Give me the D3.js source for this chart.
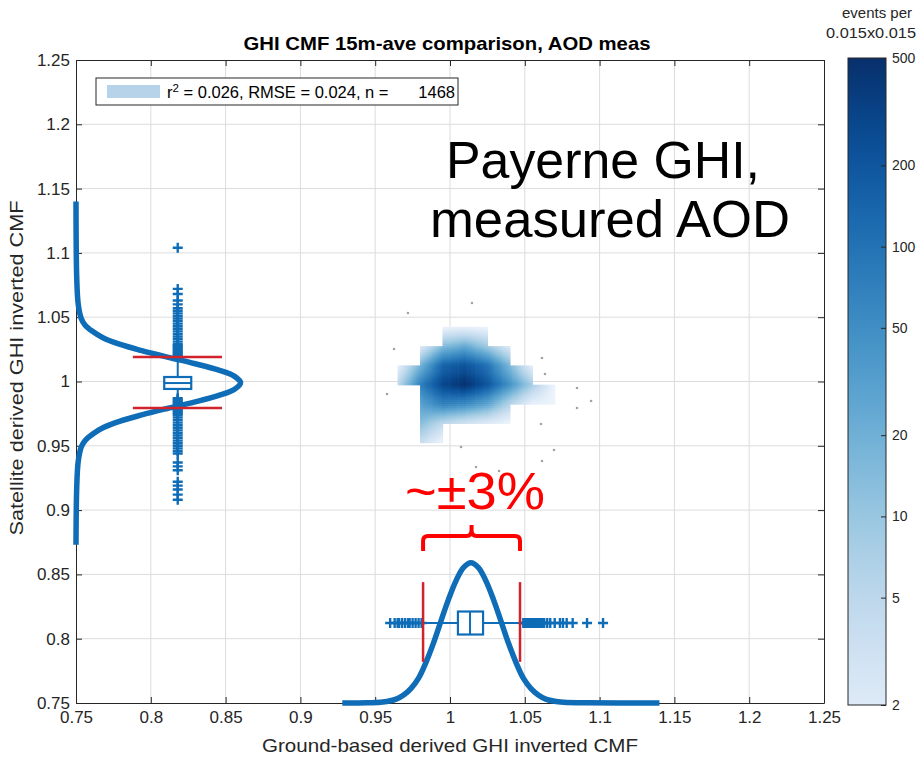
<!DOCTYPE html>
<html><head><meta charset="utf-8">
<script src="https://cdn.jsdelivr.net/npm/d3@7"></script>
<style>
body{margin:0;background:#fff}
.n{font-family:"Liberation Sans Narrow","Arial Narrow","Liberation Sans",Arial,sans-serif}
.w{font-family:"Liberation Sans",Arial,sans-serif}
</style>
</head><body><svg id="c" width="921" height="758"></svg>
<script>
// ---------- data ----------
const xTicks = [0.75,0.8,0.85,0.9,0.95,1,1.05,1.1,1.15,1.2,1.25];
const yTicks = [0.75,0.8,0.85,0.9,0.95,1,1.05,1.1,1.15,1.2,1.25];
const cbTicks = [2,5,10,20,50,100,200,500];

// 2-D histogram node values (events per 0.015x0.015), rows top->bottom
const gridX = [0.965,0.980,0.995,1.010,1.025,1.040,1.055,1.070];
const gridY = [1.0425,1.0275,1.0125,0.9975,0.9825,0.9675,0.9525];
const density = [
  [null,null,1.2, 1.4, 1.2, null,null,null],
  [null,2,   14,  24,  9,   2,   null,null],
  [1.5, 18,  140, 210, 100, 16,  1.5, null],
  [5,   70,  280, 480, 200, 45,  8,   1.2],
  [null,30,  70,  55,  28,  6,   1.5, 1.2],
  [null,14,  5,   3,   2,   1.2, null,null],
  [null,4,   1.2, null,null,null,null,null]
];

const scatterX = [1.0147,0.9719,0.9626,1.0615,1.0635,1.0849,0.9579,1.0943,1.0849,1.0608,1.0074,1.0695,1.0615,1.0174,1.0328];
const scatterY = [1.0610,1.0533,1.0253,1.0183,1.0058,0.9949,0.9903,0.9848,0.9794,0.9670,0.9491,0.9467,0.9382,0.9335,0.9304];

// marginal distribution along x (ground-based), drawn above y=0.75
const bottomPdfX = [0.928,0.945,0.955,0.964,0.969,0.974,0.979,0.984,0.989,0.994,0.999,1.004,1.009,1.014,1.019,1.024,1.029,1.034,1.039,1.044,1.049,1.054,1.059,1.064,1.074,1.09,1.14];
const bottomPdfY = [0.7500,0.7502,0.7507,0.7530,0.7562,0.7614,0.7693,0.7818,0.7968,0.8139,0.8306,0.8450,0.8553,0.8590,0.8553,0.8450,0.8306,0.8139,0.7968,0.7818,0.7693,0.7614,0.7562,0.7530,0.7507,0.7502,0.7500];

// marginal distribution along y (satellite), drawn right of x=0.75
const leftPdfY = [1.140,1.080,1.060,1.049,1.044,1.039,1.034,1.029,1.024,1.019,1.014,1.009,1.004,0.999,0.994,0.989,0.984,0.979,0.974,0.969,0.964,0.959,0.954,0.949,0.938,0.918,0.873];
const leftPdfX = [0.7500,0.7505,0.7515,0.7535,0.7560,0.7610,0.7680,0.7790,0.7940,0.8110,0.8290,0.8450,0.8560,0.8600,0.8560,0.8450,0.8290,0.8110,0.7940,0.7790,0.7680,0.7610,0.7560,0.7535,0.7515,0.7505,0.7500];

// box plots
const leftBoxPos = 0.818;
const leftBox = [0.988, 0.9942, 0.9988, 1.0035, 1.0185]; // whiskerLo, q1, median, q3, whiskerHi
const leftOutliers = [1.104,1.072,1.068,1.063,1.060,1.057,1.055,1.053,1.051,1.049,1.047,1.045,1.043,1.041,1.039,1.037,1.035,1.033,1.031,1.029,1.028,1.027,1.026,1.025,1.024,1.023,1.022,1.021,1.020,1.019,
  0.987,0.986,0.985,0.984,0.983,0.982,0.981,0.980,0.979,0.978,0.977,0.976,0.975,0.974,0.972,0.970,0.968,0.966,0.964,0.962,0.960,0.958,0.956,0.954,0.952,0.950,0.948,0.946,0.944,0.937,0.934,0.931,0.922,0.919,0.916,0.912,0.908];
const leftLimits = [0.9794, 1.019];

const bottomBoxPos = 0.8122;
const bottomBox = [0.983, 1.0053, 1.0134, 1.0221, 1.047];
const bottomOutliers = [0.960,0.963,0.965,0.966,0.968,0.970,0.972,0.973,0.975,0.977,0.979,0.981,
  1.049,1.050,1.051,1.052,1.053,1.054,1.055,1.056,1.057,1.058,1.059,1.060,1.061,1.062,1.063,1.065,1.067,1.070,1.0735,1.0755,1.078,1.082,1.0916,1.1023];
const bottomLimits = [0.982, 1.0468];

// ---------- drawing ----------
const svg = d3.select("#c");
const L=76,R=824,T=60,B=703;
const x = d3.scaleLinear().domain([0.75,1.25]).range([L,R]);
const y = d3.scaleLinear().domain([0.75,1.25]).range([B,T]);
const cb = d3.scaleLog().domain([2,500]).range([0.13,1]).clamp(false);
const col = v => d3.interpolateBlues(Math.max(0,Math.min(1,cb(v))));
const blue = "#0f6cb6", axc="#262626";

svg.append("rect").attr("width",921).attr("height",758).attr("fill","#fff");

// grid
const g = svg.append("g");
g.selectAll("line.gx").data(xTicks.slice(1,-1)).join("line")
  .attr("x1",d=>x(d)).attr("x2",d=>x(d)).attr("y1",T).attr("y2",B).attr("stroke","#dcdcdc");
g.selectAll("line.gy").data(yTicks.slice(1,-1)).join("line")
  .attr("y1",d=>y(d)).attr("y2",d=>y(d)).attr("x1",L).attr("x2",R).attr("stroke","#dcdcdc");

// density (bilinear interpolation of log counts)
const N=10, cells=[];
for(let r=0;r<gridY.length-1;r++) for(let c=0;c<gridX.length-1;c++){
  const a=density[r][c], b=density[r][c+1], d0=density[r+1][c], e=density[r+1][c+1];
  if(a==null||b==null||d0==null||e==null) continue;
  const la=Math.log(a), lb=Math.log(b), ld=Math.log(d0), le=Math.log(e);
  const X0=x(gridX[c]), X1=x(gridX[c+1]), Y0=y(gridY[r]), Y1=y(gridY[r+1]);
  for(let i=0;i<N;i++) for(let j=0;j<N;j++){
    const u=(j+0.5)/N, w=(i+0.5)/N;
    const lv=(1-w)*((1-u)*la+u*lb)+w*((1-u)*ld+u*le);
    cells.push({x0:X0+(X1-X0)*j/N, x1:X0+(X1-X0)*(j+1)/N, y0:Y0+(Y1-Y0)*i/N, y1:Y0+(Y1-Y0)*(i+1)/N, v:Math.exp(lv)});
  }
}
svg.append("g").selectAll("rect").data(cells).join("rect")
  .attr("x",d=>d.x0).attr("y",d=>d.y0).attr("width",d=>d.x1-d.x0+0.6).attr("height",d=>d.y1-d.y0+0.6)
  .attr("fill",d=>col(d.v));

svg.append("g").selectAll("circle").data(scatterX).join("circle")
  .attr("cx",d=>x(d)).attr("cy",(d,i)=>y(scatterY[i])).attr("r",1.3).attr("fill","#a3a3a3");

// axes
function ax(axis, tr, labels){
  const a = svg.append("g").attr("transform",tr).call(axis);
  a.select(".domain").attr("stroke",axc).attr("stroke-width",1);
  a.selectAll(".tick line").attr("stroke",axc);
  a.selectAll("text").attr("class","n").attr("font-size",17).attr("fill",axc);
  if(!labels) a.selectAll("text").remove();
  return a;
}
const fmt = d=>d3.format("")(+d.toFixed(2));
ax(d3.axisBottom(x).tickValues(xTicks).tickSizeInner(-6).tickSizeOuter(0).tickPadding(8).tickFormat(fmt),`translate(0,${B})`,true);
ax(d3.axisLeft(y).tickValues(yTicks).tickSizeInner(-6).tickSizeOuter(0).tickPadding(6).tickFormat(fmt),`translate(${L},0)`,true);
ax(d3.axisTop(x).tickValues(xTicks).tickSizeInner(-6).tickSizeOuter(0),`translate(0,${T})`,false);
ax(d3.axisRight(y).tickValues(yTicks).tickSizeInner(-6).tickSizeOuter(0),`translate(${R},0)`,false);

// marginal curves
const lineB = d3.line().x(d=>x(d[0])).y(d=>y(d[1])).curve(d3.curveCatmullRom);
svg.append("path").datum(bottomPdfX.map((v,i)=>[v,bottomPdfY[i]])).attr("d",lineB)
  .attr("fill","none").attr("stroke",blue).attr("stroke-width",5.5).attr("stroke-linejoin","round");
svg.append("path").datum(leftPdfY.map((v,i)=>[leftPdfX[i],v])).attr("d",lineB)
  .attr("fill","none").attr("stroke",blue).attr("stroke-width",5.5).attr("stroke-linejoin","round");

const plus = "M-5,0H5M0,-5V5";
// left box plot (vertical)
const lb = svg.append("g").attr("stroke",blue).attr("fill","none");
const lx = x(leftBoxPos), bw = 13.5;
lb.append("line").attr("x1",lx).attr("x2",lx).attr("y1",y(leftBox[1])).attr("y2",y(leftBox[0])).attr("stroke-width",2);
lb.append("line").attr("x1",lx).attr("x2",lx).attr("y1",y(leftBox[3])).attr("y2",y(leftBox[4])).attr("stroke-width",2);
lb.append("rect").attr("x",lx-bw).attr("width",2*bw).attr("y",y(leftBox[3])).attr("height",y(leftBox[1])-y(leftBox[3])).attr("stroke-width",2.2).attr("fill","#fff");
lb.append("line").attr("x1",lx-bw).attr("x2",lx+bw).attr("y1",y(leftBox[2])).attr("y2",y(leftBox[2])).attr("stroke-width",2);
lb.selectAll("path").data(leftOutliers).join("path").attr("d",plus)
  .attr("transform",d=>`translate(${lx},${y(d)})`).attr("stroke-width",2.4);

// bottom box plot (horizontal)
const bb = svg.append("g").attr("stroke",blue).attr("fill","none");
const by = y(bottomBoxPos), bh = 11.5;
bb.append("line").attr("y1",by).attr("y2",by).attr("x1",x(bottomBox[0])).attr("x2",x(bottomBox[1])).attr("stroke-width",2);
bb.append("line").attr("y1",by).attr("y2",by).attr("x1",x(bottomBox[3])).attr("x2",x(bottomBox[4])).attr("stroke-width",2);
bb.append("rect").attr("y",by-bh).attr("height",2*bh).attr("x",x(bottomBox[1])).attr("width",x(bottomBox[3])-x(bottomBox[1])).attr("stroke-width",2.2).attr("fill","#fff");
bb.append("line").attr("y1",by-bh).attr("y2",by+bh).attr("x1",x(bottomBox[2])).attr("x2",x(bottomBox[2])).attr("stroke-width",2);
bb.selectAll("path").data(bottomOutliers).join("path").attr("d",plus)
  .attr("transform",d=>`translate(${x(d)},${by})`).attr("stroke-width",2.4);

// red limit lines
const red="#d0232b";
svg.append("g").selectAll("line").data(leftLimits).join("line")
  .attr("x1",x(0.788)).attr("x2",x(0.8476)).attr("y1",d=>y(d)).attr("y2",d=>y(d)).attr("stroke",red).attr("stroke-width",2.5);
svg.append("g").selectAll("line").data(bottomLimits).join("line")
  .attr("y1",y(0.844)).attr("y2",y(0.782)).attr("x1",d=>x(d)).attr("x2",d=>x(d)).attr("stroke",red).attr("stroke-width",2.5);

// brace + annotation
const bx0=x(bottomLimits[0]), bx1=x(bottomLimits[1]), bm=(bx0+bx1)/2, byb=551, byt=536;
svg.append("path").attr("d",`M${bx0},${byb}V${byt+5}Q${bx0},${byt} ${bx0+5},${byt}H${bm-5}Q${bm},${byt} ${bm},${byt-6}V${byt-11}M${bm},${byt-6}Q${bm},${byt} ${bm+5},${byt}H${bx1-5}Q${bx1},${byt} ${bx1},${byt+5}V${byb}`)
  .attr("fill","none").attr("stroke","#ff0000").attr("stroke-width",4);
svg.append("text").attr("class","w").attr("x",475).attr("y",509).attr("text-anchor","middle")
  .attr("font-size",52).attr("textLength",140).attr("lengthAdjust","spacingAndGlyphs").attr("fill","#ff0000").text("~±3%");

svg.append("text").attr("class","w").attr("x",603).attr("y",178).attr("text-anchor","middle").attr("font-size",52).attr("textLength",314).attr("lengthAdjust","spacingAndGlyphs").attr("fill","#000").text("Payerne GHI,");
svg.append("text").attr("class","w").attr("x",610).attr("y",237).attr("text-anchor","middle").attr("font-size",52).attr("textLength",360).attr("lengthAdjust","spacingAndGlyphs").attr("fill","#000").text("measured AOD");

// legend
const lg = svg.append("g");
lg.append("rect").attr("x",96).attr("y",78).attr("width",362).attr("height",27).attr("fill","#fff").attr("stroke",axc).attr("stroke-width",1);
lg.append("rect").attr("x",107).attr("y",85).attr("width",53).attr("height",13).attr("fill","#b6d3ea");
const lt = lg.append("text").attr("class","n").attr("x",167).attr("y",98).attr("font-size",16.5).attr("fill","#000");
lt.append("tspan").text("r");
lt.append("tspan").attr("dy",-6).attr("font-size",11.5).text("2");
lt.append("tspan").attr("dy",6).text(" = 0.026, RMSE = 0.024, n =");
lg.append("text").attr("class","n").attr("x",455).attr("y",98).attr("text-anchor","end").attr("font-size",16.5).attr("fill","#000").text("1468");

// titles
svg.append("text").attr("class","n").attr("x",(L+R)/2 - 3).attr("y",50).attr("text-anchor","middle").attr("font-size",19).attr("font-weight","bold").attr("textLength",407).attr("lengthAdjust","spacingAndGlyphs").attr("fill","#000").text("GHI CMF 15m-ave comparison, AOD meas");
svg.append("text").attr("class","n").attr("x",(L+R)/2).attr("y",752).attr("text-anchor","middle").attr("font-size",19).attr("textLength",376).attr("lengthAdjust","spacingAndGlyphs").attr("fill",axc).text("Ground-based derived GHI inverted CMF");
svg.append("text").attr("class","n").attr("transform",`translate(23,368) rotate(-90)`).attr("text-anchor","middle").attr("font-size",19).attr("textLength",335).attr("lengthAdjust","spacingAndGlyphs").attr("fill",axc).text("Satellite derived GHI inverted CMF");

// colorbar
const cx0=848, cx1=886;
const yC = d3.scaleLog().domain([2,500]).range([705,58]);
const grad = svg.append("defs").append("linearGradient").attr("id","cbg").attr("x1",0).attr("x2",0).attr("y1",1).attr("y2",0);
grad.selectAll("stop").data(d3.range(0,1.0001,0.05)).join("stop")
  .attr("offset",d=>d).attr("stop-color",d=>col(Math.pow(10,Math.log10(2)+d*(Math.log10(500)-Math.log10(2)))));
svg.append("rect").attr("x",cx0).attr("y",58).attr("width",cx1-cx0).attr("height",705-58).attr("fill","url(#cbg)").attr("stroke",axc).attr("stroke-width",1);
const ca = svg.append("g").attr("transform",`translate(${cx1},0)`).call(d3.axisRight(yC).tickValues(cbTicks).tickSizeInner(-5).tickSizeOuter(0).tickPadding(6).tickFormat(d3.format("d")));
ca.select(".domain").remove();
ca.selectAll(".tick line").attr("stroke",axc);
ca.selectAll("text").attr("class","w").attr("font-size",14).attr("fill",axc);
svg.append("text").attr("class","w").attr("x",877).attr("y",18).attr("text-anchor","middle").attr("font-size",15).attr("fill",axc).text("events per");
svg.append("text").attr("class","w").attr("x",871).attr("y",38).attr("text-anchor","middle").attr("font-size",15).attr("textLength",90).attr("lengthAdjust","spacingAndGlyphs").attr("fill",axc).text("0.015x0.015");
</script></body></html>
